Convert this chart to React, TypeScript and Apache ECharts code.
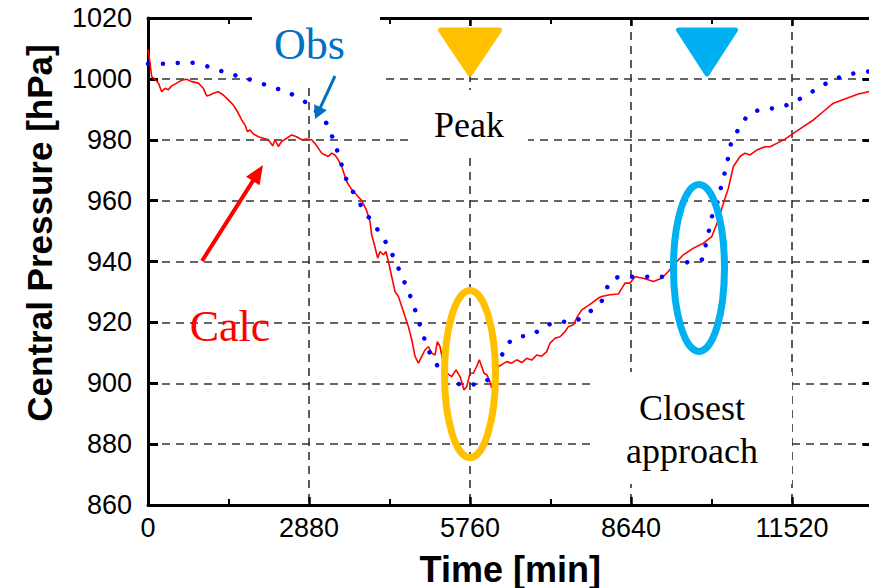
import React, { useEffect, useRef } from "react";
import * as echarts from "echarts";

// ---- Data ----
const calcTime = [
  0, 30, 66, 125, 190, 245, 304, 364, 424, 513, 603, 692, 782, 900, 990, 1050, 1109, 1169, 1258, 1347,
  1437, 1526, 1616, 1676, 1735, 1777, 1825, 1884, 1974, 2063, 2152, 2230, 2272, 2331, 2391, 2481, 2570,
  2660, 2749, 2839, 2928, 3018, 3107, 3167, 3226, 3286, 3345, 3405, 3465, 3555, 3630, 3703, 3823, 3912,
  3972, 4001, 4043, 4109, 4150, 4210, 4258, 4300, 4360, 4419, 4479, 4539, 4598, 4658, 4718, 4777, 4837,
  4897, 4956, 5016, 5076, 5135, 5176, 5224, 5272, 5344, 5433, 5510, 5582, 5653, 5701, 5761, 5820, 5880,
  5927, 5969, 6011, 6059, 6106, 6148, 6208, 6267, 6327, 6416, 6506, 6596, 6685, 6775, 6864, 6954, 7043,
  7133, 7192, 7281, 7371, 7460, 7520, 7609, 7681, 7759, 7848, 7937, 8056, 8116, 8265, 8414, 8533, 8623,
  8713, 8861, 9040, 9190, 9308, 9428, 9577, 9756, 9935, 10085, 10203, 10293, 10382, 10471, 10591, 10680,
  10770, 10889, 11038, 11128, 11247, 11396, 11545, 11724, 11903, 12076, 12260, 12500, 12708, 12887, 12960,
];
const calcValue = [
  1009.7, 1006, 1000.7, 999.9, 998.5, 995.8, 996.9, 996.4, 997.7, 998.6, 999.6, 999.9, 999.1, 998.6, 996.9,
  994.4, 994.7, 995.3, 995.8, 994.7, 993.1, 991.4, 988.7, 986.5, 984.9, 982.7, 983.2, 981.9, 981, 980.5,
  980, 978, 980, 977.8, 979.4, 980.5, 981.6, 981, 980, 980.2, 980, 978, 975.6, 975, 974.5, 975.6, 975,
  973.4, 971.2, 966.2, 964, 962.4, 960, 956.7, 953.1, 948.7, 946, 941.1, 943.3, 942.2, 943.3, 940, 935,
  930.1, 928.5, 925.2, 921.9, 918.6, 914.3, 908.8, 906.6, 908.8, 911, 912, 909.9, 909.3, 913.7, 912,
  907.7, 903.3, 902.2, 904.4, 902.2, 897.8, 898.9, 903.3, 903.3, 905.5, 907.7, 905.5, 903.3, 902.8, 901.1,
  898.4, 903.9, 905.5, 906.1, 907.1, 906.6, 907.7, 906.8, 908.2, 907.6, 909.3, 908.9, 910.4, 913.2, 914.8,
  915.3, 917, 918.6, 919.2, 921.9, 924.1, 925.2, 926.3, 928, 928.5, 929.1, 929.3, 932.9, 932.9, 935, 934.5,
  933.4, 934.5, 936.7, 939.4, 942.2, 944.4, 946, 948.2, 953.7, 959.1, 964.1, 971.2, 974.5, 975.6, 975,
  976.6, 977.7, 977.7, 978.8, 980.2, 982.1, 984.3, 986.5, 989.2, 992, 993.6, 995, 995.8, 996,
];

const obsTime = [
  0, 360, 720, 1080, 1440, 1800, 2160, 2520, 2820, 3000, 3200, 3300, 3400, 3480, 3570, 3700, 3840, 4000,
  4150, 4300, 4420, 4530, 4640, 4740, 4820, 4910, 4990, 5120, 5300, 5460, 5700, 6020, 6170, 6300, 6400,
  6590, 6850, 7080, 7330, 7610, 7810, 8010, 8160, 8250, 8440, 9270, 9470, 9680, 9920, 9980, 10040, 10100,
  10200, 10260, 10330, 10390, 10450, 10600, 10750, 10990, 11260, 11520, 11760, 12000, 12240, 12500, 12770,
  12960,
];
const obsValue = [
  1005, 1005, 1005.5, 1004, 1001.8, 999.9, 997.7, 995.4, 992.3, 989.5, 985.2, 980.8, 975.6, 970.8, 965.9,
  961.9, 957.5, 953.2, 949.3, 944.9, 940.3, 935.6, 931, 926.3, 921.6, 916.7, 911.9, 907.4, 902.5, 900.2,
  899.5, 900.2, 903.3, 907.7, 912.3, 915.2, 915.7, 918.5, 920.2, 920.2, 922.3, 925.1, 928.1, 933.2, 935,
  935, 938, 940, 940.8, 945.8, 950.6, 955.6, 960.2, 965.3, 970.1, 975.2, 980.2, 984.3, 988.5, 990, 990.5,
  992, 994.5, 997.1, 999.6, 1001.3, 1002.2, 1002.5,
];

const xMin = 0;
const xMax = 12960;
const xStep = 2880;
const yMin = 860;
const yMax = 1020;
const yStep = 20;

// Markers (data coordinates)
const peakTime = 5760;
const closestTime = 10000;
const peakEllipse = [5760, 903];
const closestEllipse = [9856, 937.9];

const pair = (t: number[], v: number[]) => t.map((x, i) => [x, v[i]]);

export default function App() {
  const ref = useRef<HTMLDivElement>(null);

  useEffect(() => {
    if (!ref.current) return;
    const chart = echarts.init(ref.current, null, { renderer: "svg" });
    const sans = "'Liberation Sans', Arial, sans-serif";
    const serif = "'Liberation Serif', 'Times New Roman', serif";
    const gridDash = { type: [8, 6] as any, color: "#333", width: 1.6 };
    const plain = (v: number) => String(v);

    const baseX = {
      type: "value" as const,
      min: xMin,
      max: xMax,
      interval: xStep,
      axisLine: { show: true, onZero: false, lineStyle: { color: "#000", width: 3 } },
      axisTick: { show: true, inside: true, length: 8, lineStyle: { color: "#000", width: 2.5 } },
      minorTick: { show: true, splitNumber: 2, length: 6, lineStyle: { color: "#000", width: 2 } },
    };
    const baseY = {
      type: "value" as const,
      min: yMin,
      max: yMax,
      interval: yStep,
      axisLine: { show: true, onZero: false, lineStyle: { color: "#000", width: 3 } },
      axisTick: { show: true, inside: true, length: 10, lineStyle: { color: "#000", width: 3 } },
    };

    chart.setOption({
      animation: false,
      backgroundColor: "#fff",
      grid: { left: 148, right: 7.5, top: 18, bottom: 83, containLabel: false, outerBoundsMode: "none" },
      xAxis: [
        {
          ...baseX,
          position: "bottom",
          name: "Time [min]",
          nameLocation: "middle",
          nameGap: 46,
          nameTextStyle: { fontFamily: sans, fontSize: 36, fontWeight: "bold", color: "#000" },
          axisLabel: { fontFamily: sans, fontSize: 27, color: "#000", margin: 9, showMaxLabel: false, formatter: plain },
          splitLine: { show: true, showMinLine: false, showMaxLine: false, lineStyle: gridDash },
        },
        {
          ...baseX,
          position: "top",
          axisLabel: { show: false },
          splitLine: { show: false },
        },
      ],
      yAxis: [
        {
          ...baseY,
          position: "left",
          axisLabel: { fontFamily: sans, fontSize: 27, color: "#000", margin: 16, formatter: plain },
          splitLine: { show: true, showMinLine: false, showMaxLine: false, lineStyle: gridDash },
        },
        {
          ...baseY,
          position: "right",
          axisLabel: { show: false },
          splitLine: { show: false },
        },
      ],
      series: [
        {
          name: "Calc",
          type: "line",
          data: pair(calcTime, calcValue),
          showSymbol: false,
          z: 3,
          lineStyle: { color: "#ff0000", width: 1.6 },
        },
        {
          name: "Obs",
          type: "line",
          data: pair(obsTime, obsValue),
          showSymbol: false,
          smooth: 0.2,
          z: 4,
          lineStyle: { color: "#0000ff", width: 4.5, type: [0.01, 14.9] as any, cap: "round" },
        },
      ],
    });

    const px = (t: number, v: number) =>
      chart.convertToPixel({ xAxisIndex: 0, yAxisIndex: 0 }, [t, v]) as number[];

    const arrow = (x1: number, y1: number, x2: number, y2: number, len: number, hw: number, color: string, w: number) => {
      const dx = x2 - x1;
      const dy = y2 - y1;
      const L = Math.sqrt(dx * dx + dy * dy);
      const ux = dx / L;
      const uy = dy / L;
      const bx = x2 - ux * len;
      const by = y2 - uy * len;
      return [
        { type: "line", z: 10, shape: { x1, y1, x2: bx + ux * 2, y2: by + uy * 2 }, style: { stroke: color, lineWidth: w } },
        {
          type: "polygon",
          z: 10,
          shape: { points: [[x2, y2], [bx - uy * hw, by + ux * hw], [bx + uy * hw, by - ux * hw]] },
          style: { fill: color },
        },
      ];
    };

    const tri = (t: number, color: string, hw: number) => {
      const [tx, ty] = px(t, 1001.6);
      return {
        type: "polygon",
        z: 10,
        shape: { points: [[tx - hw, ty - 44], [tx + hw, ty - 44], [tx, ty]] },
        style: { fill: color, stroke: color, lineWidth: 5, lineJoin: "round" },
      };
    };

    const ell = (c: number[], color: string) => {
      const [cx, cy] = px(c[0], c[1]);
      return {
        type: "ellipse",
        z: 10,
        shape: { cx, cy, rx: 25.5, ry: 83.5 },
        style: { fill: "none", stroke: color, lineWidth: 7 },
      };
    };

    const whiteBox = (x: number, y: number, w: number, h: number) => ({
      type: "rect",
      z: 1,
      shape: { x, y, width: w, height: h },
      style: { fill: "#fff" },
    });

    const label = (text: string, x: number, y: number, size: number, color: string) => ({
      type: "text",
      z: 10,
      x,
      y,
      style: { text, fill: color, fontFamily: serif, fontSize: size, align: "center", verticalAlign: "middle" },
    });

    chart.setOption({
      graphic: {
        elements: [
          whiteBox(252, 0, 128, 82),
          whiteBox(410, 90, 118, 67),
          whiteBox(593, 372, 199, 112),
          tri(peakTime, "#ffc000", 29.5),
          tri(closestTime, "#00b0f0", 28.5),
          ell(peakEllipse, "#ffc000"),
          ell(closestEllipse, "#00b0f0"),
          label("Obs", 309.5, 44, 44, "#0070c0"),
          label("Calc", 230, 326, 44, "#ff0000"),
          label("Peak", 469, 125, 36, "#000"),
          label("Closest", 692, 408, 36, "#000"),
          label("approach", 692, 451, 36, "#000"),
          ...arrow(335, 76, 315, 119, 13, 7, "#0070c0", 3),
          ...arrow(202, 261, 263, 165, 19, 8, "#ff0000", 4),
          {
            type: "text",
            z: 10,
            x: 39,
            y: 233,
            rotation: Math.PI / 2,
            style: {
              text: "Central Pressure [hPa]",
              fill: "#000",
              fontFamily: sans,
              fontSize: 35,
              fontWeight: "bold",
              align: "center",
              verticalAlign: "middle",
            },
          },
        ],
      },
    });

    return () => chart.dispose();
  }, []);

  return (
    <div style={{ position: "fixed", left: 0, top: 0, width: 869, height: 588, overflow: "hidden", background: "#fff" }}>
      <div ref={ref} style={{ width: 880, height: 588 }} />
    </div>
  );
}
